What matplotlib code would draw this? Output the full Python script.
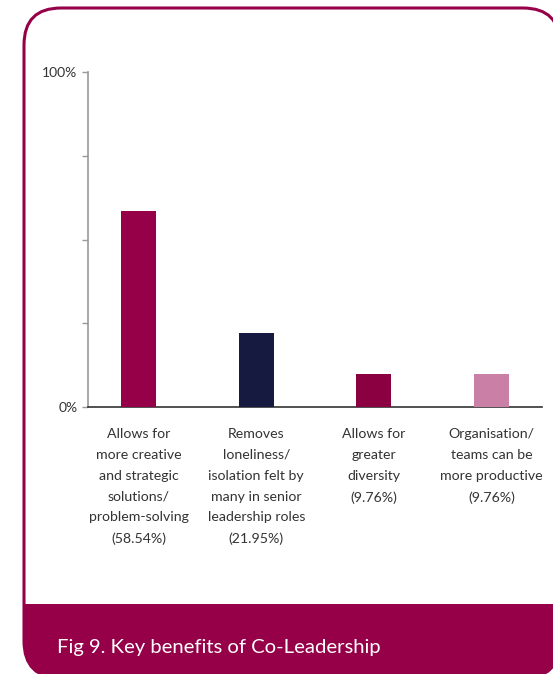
import matplotlib
matplotlib.use("Agg")
import matplotlib.pyplot as plt
from matplotlib.patches import FancyBboxPatch, Rectangle
from matplotlib.transforms import blended_transform_factory

categories = [
    "Allows for\nmore creative\nand strategic\nsolutions/\nproblem-solving",
    "Removes\nloneliness/\nisolation felt by\nmany in senior\nleadership roles",
    "Allows for\ngreater\ndiversity",
    "Organisation/\nteams can be\nmore productive",
]
values = [58.54, 21.95, 9.76, 9.76]
value_labels = ["(58.54%)", "(21.95%)", "(9.76%)", "(9.76%)"]
bar_colors = ["#960048", "#161a40", "#8a0040", "#c97fa6"]
ytick_values = [0, 25, 50, 75, 100]
ytick_labels = ["0%", "", "", "", "100%"]
title = "Fig 9. Key benefits of Co-Leadership"

plt.rcParams['font.family'] = ['Lato', 'DejaVu Sans']

W, H = 553, 674
fig = plt.figure(figsize=(W / 100, H / 100), dpi=100)
fig.patch.set_facecolor("white")

# card background (pixel coordinates)
bg = fig.add_axes([0, 0, 1, 1])
bg.set_xlim(0, W)
bg.set_ylim(H, 0)
bg.axis("off")
crimson = "#960048"
r = 37
card = FancyBboxPatch((24 + r, 8 + r), 560 - 24 - 2 * r, 678 - 8 - 2 * r,
                      boxstyle=f"round,pad={r}", facecolor="white",
                      edgecolor=crimson, linewidth=2.2, zorder=1)
bg.add_patch(card)
footer = Rectangle((0, 604), 600, 100, facecolor=crimson, edgecolor="none", zorder=2)
bg.add_patch(footer)
footer.set_clip_path(card)
bg.text(57, 647, title, color="white", fontsize=14.6, va="center", ha="left", zorder=3)

# chart
ax = fig.add_axes([88 / W, 1 - 407 / H, (542 - 88) / W, (407 - 72) / H])
ax.set_facecolor("none")
x = list(range(len(values)))
ax.bar(x, values, width=0.3, color=bar_colors, zorder=3)
ax.set_xlim(-0.43, 3.43)
ax.set_ylim(0, 100)
ax.set_yticks(ytick_values)
ax.set_yticklabels(ytick_labels)
ax.tick_params(axis="y", direction="out", length=4, width=1, color="#999999",
               labelsize=10, labelcolor="#333333", pad=3.5)
ax.set_xticks([])
for s in ["top", "right"]:
    ax.spines[s].set_visible(False)
ax.spines["left"].set_color("#999999")
ax.spines["left"].set_linewidth(1.2)
ax.spines["bottom"].set_color("#333333")
ax.spines["bottom"].set_linewidth(1.2)

trans = blended_transform_factory(ax.transData, ax.transAxes)
for i, (cat, vl) in enumerate(zip(categories, value_labels)):
    ax.annotate(cat + "\n" + vl, xy=(i, 0), xycoords=trans, xytext=(0, -15),
                textcoords="offset points", ha="center", va="top",
                fontsize=10.2, color="#333333", linespacing=1.89,
                annotation_clip=False)

fig.savefig("out.png", dpi=100, facecolor="white")
